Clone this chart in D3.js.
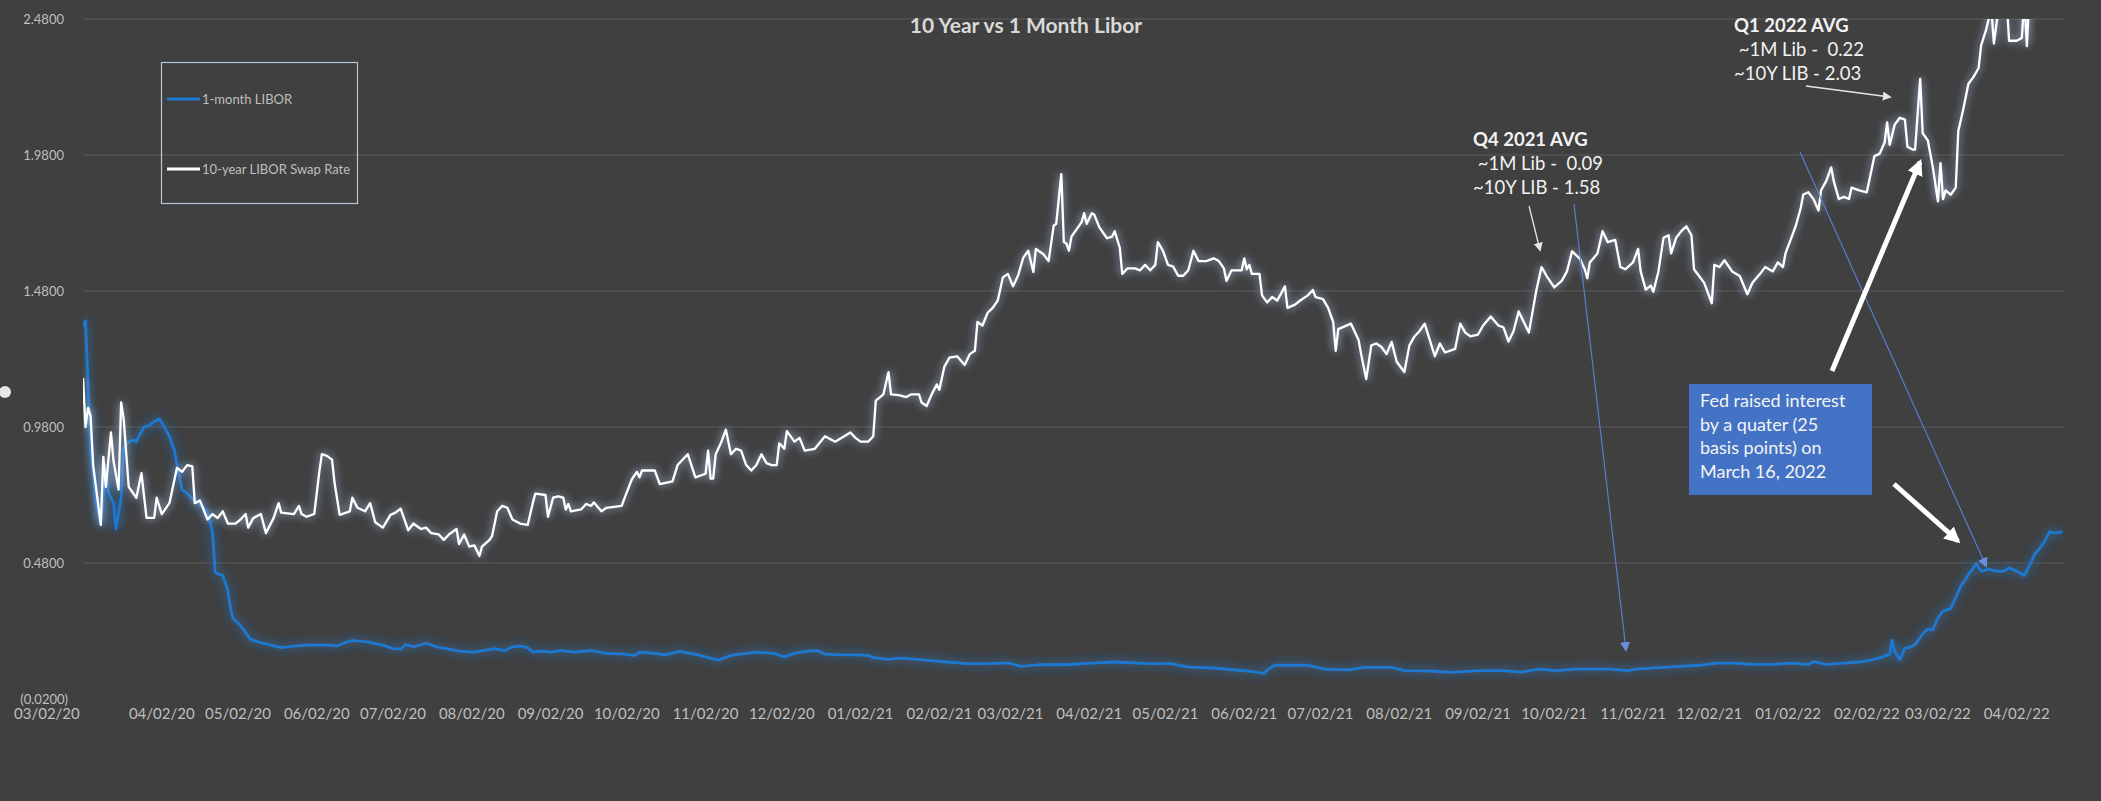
<!DOCTYPE html>
<html>
<head>
<meta charset="utf-8">
<script src="https://cdn.jsdelivr.net/npm/d3@7"></script>
<style>
    body { margin: 0; background: #404040; }
    svg { display: block; }
    text { font-family: Lato, "Open Sans", sans-serif; }
</style>
</head>
<body>
<svg id="chart"></svg>
<script>
// series start date, every "days" value below counts days after it
const startDate = "2020-03-02";

// 10-year LIBOR swap rate (white)
const swapDays = [
    0, 1, 2, 3, 4, 7, 8, 9, 11, 12,
    14, 15, 16, 18, 21, 23, 25, 28, 29, 31,
    34, 37, 39, 41, 43, 44, 46, 49, 51, 53,
    55, 57, 60, 62, 64, 65, 67, 70, 72, 75,
    77, 78, 83, 85, 86, 88, 91, 93, 94, 96,
    98, 99, 101, 105, 106, 108, 111, 113, 115, 118,
    121, 123, 125, 128, 130, 133, 135, 137, 140, 142,
    144, 147, 148, 150, 152, 154, 156, 157, 160, 161,
    163, 165, 167, 169, 172, 175, 177, 178, 182, 183,
    185, 187, 189, 190, 191, 192, 196, 198, 200, 201,
    204, 206, 212, 213, 216, 218, 219, 220, 225, 227,
    232, 234, 238, 241, 245, 246, 247, 248, 249, 251,
    253, 255, 257, 259, 261, 263, 265, 267, 269, 271,
    273, 274, 276, 277, 280, 282, 284, 288, 292, 296,
    302, 304, 306, 309, 311, 312, 315, 317, 318, 321,
    324, 326, 329, 330, 332, 334, 336, 337, 339, 341,
    344, 347, 349, 351, 352, 354, 356, 358, 360, 362,
    364, 366, 368, 370, 372, 374, 375, 376, 378, 380,
    382, 383, 385, 386, 387, 388, 389, 393, 394, 395,
    397, 398, 400, 403, 405, 406, 408, 409, 411, 414,
    416, 418, 420, 422, 423, 425, 427, 429, 431, 433,
    435, 437, 439, 442, 445, 447, 449, 450, 452, 456,
    457, 458, 459, 460, 463, 464, 466, 468, 470, 473,
    474, 477, 479, 482, 484, 485, 488, 490, 492, 493,
    494, 499, 502, 503, 505, 507, 509, 511, 513, 515,
    517, 520, 522, 524, 526, 528, 530, 532, 534, 536,
    540, 542, 544, 546, 549, 551, 554, 557, 559, 561,
    563, 565, 567, 569, 572, 574, 576, 579, 582, 584,
    586, 589, 591, 592, 593, 596, 598, 600, 603, 605,
    607, 610, 612, 613, 615, 617, 618, 620, 622, 624,
    625, 627, 629, 631, 633, 634, 636, 638, 639, 641,
    642, 644, 646, 649, 652, 655, 657, 660, 662, 665,
    667, 669, 670, 672, 674, 676, 677, 679, 681, 683,
    684, 686, 688, 689, 691, 693, 695, 696, 699, 702,
    705, 707, 709, 710, 711, 713, 715, 717, 718, 720,
    721, 723, 724, 726, 728, 730, 731, 732, 733, 735,
    737, 738, 740, 742, 744, 746, 747, 749, 751, 752,
    754, 757, 758, 761, 763, 764, 765, 766, 770, 774,
    778, 780
];
const swapValues = [
    1.16, 0.98, 1.05, 1.02, 0.84, 0.62, 0.87, 0.76, 0.96, 0.855,
    0.75, 1.07, 1.01, 0.76, 0.72, 0.81, 0.646, 0.646, 0.72, 0.66,
    0.70, 0.83, 0.815, 0.84, 0.835, 0.70, 0.71, 0.64, 0.66, 0.645,
    0.67, 0.625, 0.625, 0.64, 0.66, 0.61, 0.645, 0.66, 0.59, 0.645,
    0.70, 0.665, 0.66, 0.69, 0.66, 0.65, 0.66, 0.815, 0.88, 0.874,
    0.86, 0.775, 0.657, 0.67, 0.72, 0.683, 0.67, 0.70, 0.63, 0.61,
    0.657, 0.665, 0.68, 0.60, 0.625, 0.605, 0.61, 0.59, 0.585, 0.565,
    0.585, 0.605, 0.55, 0.585, 0.54, 0.545, 0.506, 0.54, 0.565, 0.58,
    0.67, 0.69, 0.683, 0.64, 0.625, 0.62, 0.70, 0.735, 0.73, 0.65,
    0.72, 0.725, 0.72, 0.677, 0.697, 0.67, 0.677, 0.697, 0.69, 0.703,
    0.67, 0.683, 0.69, 0.716, 0.788, 0.815, 0.795, 0.82, 0.82, 0.77,
    0.78, 0.84, 0.88, 0.795, 0.808, 0.893, 0.79, 0.79, 0.88, 0.92,
    0.97, 0.88, 0.90, 0.893, 0.84, 0.82, 0.84, 0.88, 0.847, 0.84,
    0.84, 0.92, 0.90, 0.965, 0.926, 0.94, 0.893, 0.90, 0.946, 0.926,
    0.96, 0.94, 0.926, 0.926, 0.946, 1.077, 1.10, 1.182, 1.10, 1.097,
    1.09, 1.10, 1.10, 1.07, 1.057, 1.10, 1.136, 1.117, 1.202, 1.235,
    1.24, 1.208, 1.248, 1.26, 1.366, 1.353, 1.40, 1.418, 1.445, 1.53,
    1.543, 1.497, 1.537, 1.602, 1.628, 1.55, 1.635, 1.628, 1.615, 1.59,
    1.72, 1.727, 1.91, 1.66, 1.655, 1.628, 1.68, 1.733, 1.766, 1.727,
    1.766, 1.76, 1.714, 1.674, 1.68, 1.70, 1.64, 1.543, 1.563, 1.563,
    1.556, 1.576, 1.556, 1.576, 1.66, 1.628, 1.576, 1.57, 1.536, 1.536,
    1.556, 1.628, 1.59, 1.59, 1.60, 1.59, 1.563, 1.517, 1.556, 1.556,
    1.60, 1.56, 1.576, 1.543, 1.543, 1.464, 1.438, 1.458, 1.445, 1.497,
    1.418, 1.43, 1.445, 1.464, 1.484, 1.458, 1.45, 1.418, 1.366, 1.26,
    1.34, 1.36, 1.30, 1.248, 1.156, 1.28, 1.287, 1.274, 1.248, 1.293,
    1.22, 1.182, 1.28, 1.313, 1.333, 1.36, 1.30, 1.24, 1.287, 1.254,
    1.267, 1.36, 1.327, 1.313, 1.32, 1.353, 1.386, 1.353, 1.346, 1.294,
    1.333, 1.405, 1.366, 1.327, 1.485, 1.568, 1.535, 1.493, 1.518, 1.552,
    1.626, 1.60, 1.56, 1.527, 1.585, 1.618, 1.70, 1.66, 1.668, 1.568,
    1.56, 1.585, 1.635, 1.552, 1.485, 1.50, 1.477, 1.552, 1.676, 1.685,
    1.618, 1.676, 1.70, 1.718, 1.685, 1.56, 1.535, 1.51, 1.485, 1.435,
    1.576, 1.568, 1.593, 1.552, 1.535, 1.468, 1.51, 1.543, 1.568, 1.552,
    1.585, 1.568, 1.618, 1.668, 1.718, 1.785, 1.835, 1.843, 1.818, 1.776,
    1.85, 1.884, 1.934, 1.884, 1.818, 1.826, 1.818, 1.86, 1.85, 1.843,
    1.976, 1.984, 2.026, 2.10, 2.017, 2.092, 2.117, 2.11, 2.01, 2.00,
    2.00, 2.26, 2.06, 2.034, 1.934, 1.81, 1.95, 1.818, 1.85, 1.834,
    1.86, 2.067, 2.15, 2.242, 2.267, 2.30, 2.383, 2.442, 2.52, 2.39,
    2.53, 2.55, 2.40, 2.40, 2.41, 2.55, 2.38, 2.58, 2.70, 2.78,
    2.75, 2.80
];

// 1-month LIBOR (blue)
const liborDays = [
    0, 1, 3, 5, 7, 9, 10, 12, 13, 15,
    16, 18, 20, 21, 22, 24, 26, 28, 30, 32,
    34, 36, 37, 39, 41, 43, 46, 49, 51, 52,
    53, 55, 57, 58, 59, 62, 64, 66, 70, 74,
    78, 83, 88, 96, 100, 103, 106, 112, 118, 122,
    125, 127, 130, 135, 139, 143, 148, 154, 156, 162,
    166, 169, 172, 175, 177, 180, 184, 188, 193, 200,
    206, 213, 217, 219, 225, 229, 235, 242, 250, 255,
    261, 265, 272, 276, 280, 285, 289, 292, 298, 305,
    309, 311, 317, 322, 328, 335, 340, 348, 357, 364,
    369, 377, 386, 399, 406, 419, 428, 435, 445, 458,
    465, 466, 469, 482, 489, 498, 504, 515, 520, 531,
    538, 550, 559, 566, 573, 580, 587, 594, 601, 608,
    611, 622, 629, 636, 643, 650, 657, 665, 672, 679,
    681, 686, 693, 700, 704, 708, 711, 712, 713, 715,
    717, 719, 721, 724, 726, 728, 730, 732, 735, 737,
    739, 742, 744, 745, 747, 750, 753, 756, 758, 761,
    764, 766, 768, 770, 772, 774, 776, 779
];
const liborValues = [
    1.35, 1.37, 0.89, 0.71, 0.62, 0.84, 0.74, 0.70, 0.605, 0.72,
    0.906, 0.926, 0.933, 0.926, 0.946, 0.98, 0.985, 1.0, 1.01, 0.98,
    0.946, 0.893, 0.84, 0.75, 0.736, 0.716, 0.696, 0.67, 0.59, 0.447,
    0.44, 0.434, 0.38, 0.316, 0.277, 0.25, 0.224, 0.198, 0.187, 0.178,
    0.169, 0.174, 0.178, 0.178, 0.175, 0.187, 0.195, 0.19, 0.178, 0.165,
    0.163, 0.18, 0.172, 0.185, 0.172, 0.165, 0.156, 0.152, 0.156, 0.165,
    0.158, 0.172, 0.174, 0.169, 0.152, 0.156, 0.152, 0.158, 0.152, 0.158,
    0.148, 0.145, 0.14, 0.152, 0.148, 0.142, 0.155, 0.142, 0.123, 0.14,
    0.148, 0.152, 0.148, 0.135, 0.148, 0.156, 0.158, 0.145, 0.142, 0.142,
    0.14, 0.132, 0.126, 0.13, 0.126, 0.12, 0.116, 0.11, 0.11, 0.113,
    0.10, 0.106, 0.106, 0.113, 0.116, 0.11, 0.11, 0.097, 0.094, 0.083,
    0.074, 0.087, 0.104, 0.104, 0.09, 0.087, 0.096, 0.096, 0.084, 0.083,
    0.078, 0.084, 0.084, 0.079, 0.09, 0.084, 0.09, 0.09, 0.09, 0.084,
    0.09, 0.096, 0.10, 0.104, 0.112, 0.112, 0.107, 0.107, 0.112, 0.107,
    0.117, 0.107, 0.112, 0.117, 0.124, 0.134, 0.145, 0.195, 0.154, 0.124,
    0.167, 0.17, 0.18, 0.22, 0.237, 0.234, 0.278, 0.303, 0.312, 0.353,
    0.395, 0.437, 0.462, 0.478, 0.45, 0.457, 0.45, 0.45, 0.462, 0.45,
    0.434, 0.47, 0.512, 0.533, 0.56, 0.595, 0.59, 0.595
];

const yTicks = [-0.02, 0.48, 0.98, 1.48, 1.98, 2.48];
const xTickLabels = [
    "03/02/20", "04/02/20", "05/02/20", "06/02/20", "07/02/20", "08/02/20",
    "09/02/20", "10/02/20", "11/02/20", "12/02/20", "01/02/21", "02/02/21",
    "03/02/21", "04/02/21", "05/02/21", "06/02/21", "07/02/21", "08/02/21",
    "09/02/21", "10/02/21", "11/02/21", "12/02/21", "01/02/22", "02/02/22",
    "03/02/22", "04/02/22"
];
const axisEnd = "2022-04-21";

const width = 2101;
const height = 801;
const plot = { left: 83, right: 2065, top: 19, bottom: 699 };

const parseIso = d3.timeParse("%Y-%m-%d");
const parseTick = d3.timeParse("%m/%d/%y");
const start = parseIso(startDate);

function toSeries(days, values) {
    return days.map((d, i) => ({ date: d3.timeDay.offset(start, d), value: values[i] }));
}

const swap = toSeries(swapDays, swapValues);
const libor = toSeries(liborDays, liborValues);

const svg = d3.select("#chart")
    .attr("width", width)
    .attr("height", height);

svg.append("rect")
    .attr("width", width)
    .attr("height", height)
    .attr("fill", "#404040");

const x = d3.scaleTime()
    .domain([start, parseIso(axisEnd)])
    .range([plot.left, plot.right]);

const y = d3.scaleLinear()
    .domain([yTicks[0], yTicks[yTicks.length - 1]])
    .range([plot.bottom, plot.top]);

const defs = svg.append("defs");

defs.append("clipPath")
    .attr("id", "plot-clip")
    .append("rect")
    .attr("x", plot.left)
    .attr("y", plot.top)
    .attr("width", plot.right - plot.left)
    .attr("height", plot.bottom - plot.top);

// Excel style glow behind each line
function addGlow(id, color, opacity, blur) {
    const f = defs.append("filter")
        .attr("id", id)
        .attr("filterUnits", "userSpaceOnUse")
        .attr("x", 0).attr("y", 0)
        .attr("width", width).attr("height", height);
    f.append("feGaussianBlur")
        .attr("in", "SourceAlpha")
        .attr("stdDeviation", blur)
        .attr("result", "blur");
    f.append("feFlood")
        .attr("flood-color", color)
        .attr("flood-opacity", opacity);
    f.append("feComposite")
        .attr("in2", "blur")
        .attr("operator", "in")
        .attr("result", "glow");
    const m = f.append("feMerge");
    m.append("feMergeNode").attr("in", "glow");
    m.append("feMergeNode").attr("in", "glow");
    m.append("feMergeNode").attr("in", "SourceGraphic");
}
addGlow("glow-white", "#9fb6d9", 0.6, 4);
addGlow("glow-blue", "#2f7fd8", 0.5, 5.5);

function addMarker(id, color, size) {
    defs.append("marker")
        .attr("id", id)
        .attr("viewBox", "0 0 10 10")
        .attr("refX", 8)
        .attr("refY", 5)
        .attr("markerUnits", "userSpaceOnUse")
        .attr("markerWidth", size)
        .attr("markerHeight", size)
        .attr("orient", "auto")
        .append("path")
        .attr("d", "M0,0L10,5L0,10z")
        .attr("fill", color);
}
addMarker("arrow-thin", "#e6e6e6", 9);
addMarker("arrow-blue", "#6a8fe0", 10);
addMarker("arrow-thick", "#ffffff", 16);

// gridlines
svg.append("g")
    .selectAll("line")
    .data(yTicks.slice(1))
    .enter()
    .append("line")
    .attr("x1", plot.left)
    .attr("x2", plot.right)
    .attr("y1", (d) => y(d))
    .attr("y2", (d) => y(d))
    .attr("stroke", "#5a5a5a")
    .attr("stroke-width", 1);

// y tick labels, negatives in brackets like Excel
const fmt = d3.format(".4f");
svg.append("g")
    .selectAll("text")
    .data(yTicks)
    .enter()
    .append("text")
    .attr("x", (d) => (d < 0 ? 68 : 64))
    .attr("y", (d) => y(d) + 4.5)
    .attr("text-anchor", "end")
    .style("font-size", "13px")
    .style("fill", "#bfbfbf")
    .text((d) => (d < 0 ? "(" + fmt(-d) + ")" : fmt(d)));

// x tick labels (the first one is pushed left, as Excel does at the edge)
svg.append("g")
    .selectAll("text")
    .data(xTickLabels)
    .enter()
    .append("text")
    .attr("x", (d, i) => (i === 0 ? 14 : x(parseTick(d))))
    .attr("y", 719)
    .attr("text-anchor", (d, i) => (i === 0 ? "start" : "middle"))
    .style("font-size", "15px")
    .style("fill", "#bfbfbf")
    .text((d) => d);

// lines
const line = d3.line()
    .x((d) => x(d.date))
    .y((d) => y(d.value));

const lines = svg.append("g").attr("clip-path", "url(#plot-clip)");

lines.append("path")
    .datum(libor)
    .attr("d", line)
    .attr("fill", "none")
    .attr("stroke", "#1f78d1")
    .attr("stroke-width", 2.8)
    .attr("stroke-linejoin", "round")
    .attr("filter", "url(#glow-blue)");

lines.append("path")
    .datum(swap)
    .attr("d", line)
    .attr("fill", "none")
    .attr("stroke", "#ffffff")
    .attr("stroke-width", 2.3)
    .attr("stroke-linejoin", "round")
    .attr("filter", "url(#glow-white)");

// title
svg.append("text")
    .attr("x", 1026)
    .attr("y", 33)
    .attr("text-anchor", "middle")
    .style("font-size", "21px")
    .style("font-weight", "bold")
    .style("fill", "#d9d9d9")
    .text("10 Year vs 1 Month Libor");

// legend
const legend = svg.append("g");
legend.append("rect")
    .attr("x", 161.5)
    .attr("y", 62.5)
    .attr("width", 196)
    .attr("height", 141)
    .attr("fill", "none")
    .attr("stroke", "#b9c6d6")
    .attr("stroke-width", 1.2);

const legendItems = [
    { label: "1-month LIBOR", color: "#1f78d1", y: 99 },
    { label: "10-year LIBOR Swap Rate", color: "#ffffff", y: 169 }
];
legend.selectAll("line")
    .data(legendItems)
    .enter()
    .append("line")
    .attr("x1", 167)
    .attr("x2", 200)
    .attr("y1", (d) => d.y)
    .attr("y2", (d) => d.y)
    .attr("stroke", (d) => d.color)
    .attr("stroke-width", 3);
legend.selectAll("text")
    .data(legendItems)
    .enter()
    .append("text")
    .attr("x", 202)
    .attr("y", (d) => d.y + 4.5)
    .style("font-size", "13px")
    .style("fill", "#bfbfbf")
    .text((d) => d.label);

// annotation text blocks
function textBlock(x0, lines) {
    svg.append("g")
        .selectAll("text")
        .data(lines)
        .enter()
        .append("text")
        .attr("x", x0)
        .attr("y", (d) => d.y)
        .style("font-size", "18.5px")
        .style("font-weight", (d) => (d.bold ? "bold" : "normal"))
        .style("fill", "#f2f2f2")
        .style("white-space", "pre")
        .text((d) => d.t);
}
textBlock(1473, [
    { t: "Q4 2021 AVG", y: 146, bold: true },
    { t: " ~1M Lib -  0.09", y: 170 },
    { t: "~10Y LIB - 1.58", y: 194 }
]);
textBlock(1734, [
    { t: "Q1 2022 AVG", y: 32, bold: true },
    { t: " ~1M Lib -  0.22", y: 56 },
    { t: "~10Y LIB - 2.03", y: 80 }
]);

// Fed box
svg.append("rect")
    .attr("x", 1689)
    .attr("y", 384)
    .attr("width", 183)
    .attr("height", 111)
    .attr("fill", "#4472c4");
svg.append("g")
    .selectAll("text")
    .data(["Fed raised interest", "by a quater (25", "basis points) on", "March 16, 2022"])
    .enter()
    .append("text")
    .attr("x", 1700)
    .attr("y", (d, i) => 407 + i * 23.7)
    .style("font-size", "18px")
    .style("fill", "#f4f4f4")
    .text((d) => d);

// arrows
function arrow(x1, y1, x2, y2, color, w, marker) {
    svg.append("line")
        .attr("x1", x1).attr("y1", y1)
        .attr("x2", x2).attr("y2", y2)
        .attr("stroke", color)
        .attr("stroke-width", w)
        .attr("marker-end", "url(#" + marker + ")");
}
arrow(1806, 86, 1890, 97, "#e6e6e6", 1.3, "arrow-thin");
arrow(1529, 206, 1540, 250, "#e6e6e6", 1.3, "arrow-thin");
arrow(1574, 204, 1626, 650, "#5a80d6", 1.1, "arrow-blue");
arrow(1800, 152, 1986, 566, "#5a80d6", 1.1, "arrow-blue");
arrow(1832, 371, 1920, 162, "#ffffff", 5, "arrow-thick");
arrow(1894, 484, 1958, 541, "#ffffff", 5, "arrow-thick");

// small round handle on the left edge of the picture
svg.append("circle")
    .attr("cx", 5)
    .attr("cy", 392)
    .attr("r", 6)
    .attr("fill", "#e6e6e6");
</script>
</body>
</html>
